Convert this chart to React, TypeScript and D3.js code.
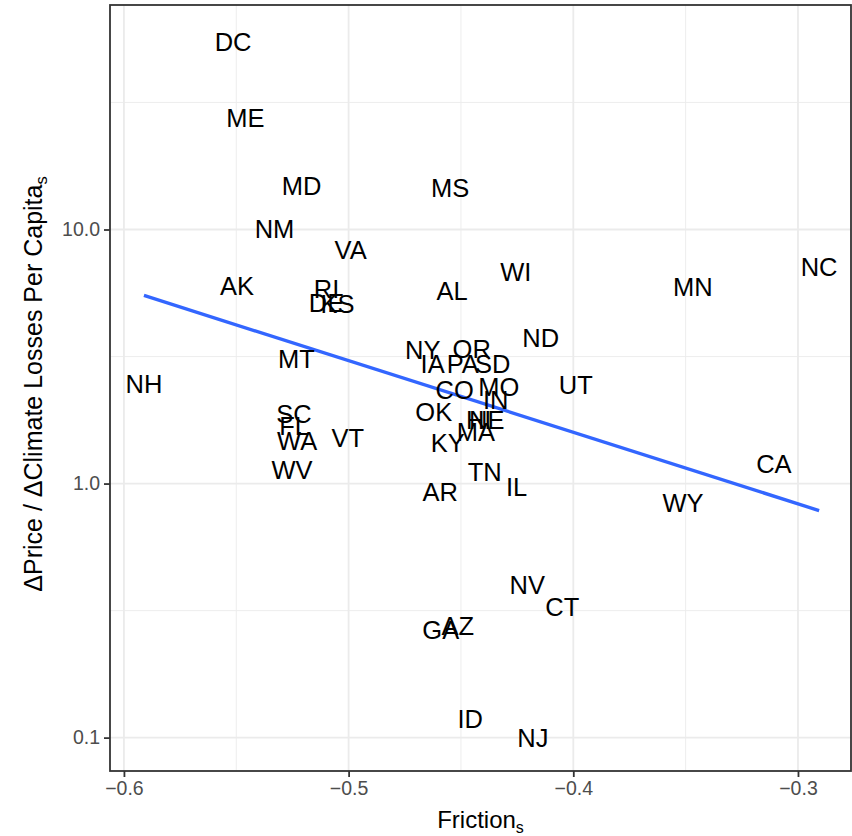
import * as d3 from 'd3';
import React, { useRef, useEffect } from 'react';

// state labels, friction (x) and price/loss ratio (y, log scale)
const states = ['DC', 'ME', 'MD', 'MS', 'NM', 'VA', 'AK', 'RI', 'DE', 'KS', 'AL', 'WI', 'MN', 'NC',
  'ND', 'NY', 'OR', 'IA', 'PA', 'SD', 'MT', 'NH', 'UT', 'MO', 'CO', 'IN', 'OK', 'SC', 'FL', 'HI', 'NE',
  'MA', 'WA', 'VT', 'KY', 'CA', 'WV', 'TN', 'IL', 'AR', 'WY', 'NV', 'CT', 'AZ', 'GA', 'ID', 'NJ'];
const friction = [-0.5514, -0.5459, -0.5209, -0.4548, -0.533, -0.4991, -0.5497, -0.5098, -0.5098, -0.5049,
  -0.4539, -0.4256, -0.3468, -0.2906, -0.4145, -0.467, -0.4452, -0.4626, -0.4492, -0.4359, -0.5232,
  -0.5911, -0.3989, -0.4332, -0.4528, -0.4345, -0.4621, -0.5243, -0.5243, -0.4421, -0.4385,
  -0.4434, -0.5229, -0.5004, -0.4559, -0.3107, -0.5252, -0.4394, -0.4252, -0.4592, -0.3512, -0.4205,
  -0.4049, -0.4514, -0.459, -0.4459, -0.418];
const ratio = [55.0, 27.6, 14.8, 14.6, 10.1, 8.34, 6.02, 5.86, 5.16, 5.11, 5.75, 6.83, 5.94, 7.12,
  3.76, 3.37, 3.40, 2.97, 2.97, 2.97, 3.11, 2.48, 2.45, 2.41, 2.34, 2.14, 1.92, 1.886, 1.69, 1.79, 1.79,
  1.60, 1.476, 1.517, 1.45, 1.199, 1.135, 1.115, 0.973, 0.930, 0.842, 0.400, 0.328, 0.276, 0.266, 0.119, 0.100];

// fitted line (lm on log10 y)
const fitX = [-0.5911, -0.2906];
const fitY = [5.50, 0.783];

const xTicks = [-0.6, -0.5, -0.4, -0.3];
const xMinor = [-0.55, -0.45, -0.35];
const yTicks = [0.1, 1, 10];
const yTickLabels = ['0.1', '1.0', '10.0'];
const yMinor = [0.1 * Math.sqrt(10), Math.sqrt(10), 10 * Math.sqrt(10)];

const W = 852, H = 836;
const FONT = 'Liberation Sans, Arial, sans-serif';

function App() {
  const ref = useRef(null);

  useEffect(() => {
    const svg = d3.select(ref.current);
    svg.selectAll('*').remove();

    const margin = { top: 5, right: 1, bottom: 65, left: 110 };
    const x = d3.scaleLinear().domain([-0.6062, -0.2764]).range([margin.left, W - margin.right]);
    const y = d3.scaleLog().domain([0.0739, 76.5]).range([H - margin.bottom, margin.top]);

    svg.append('rect').attr('width', W).attr('height', H).attr('fill', 'white');

    const grid = svg.append('g');
    grid.selectAll('.xmin').data(xMinor).enter().append('line')
      .attr('x1', d => x(d)).attr('x2', d => x(d))
      .attr('y1', margin.top).attr('y2', H - margin.bottom)
      .attr('stroke', '#ebebeb').attr('stroke-width', 0.9);
    grid.selectAll('.ymin').data(yMinor).enter().append('line')
      .attr('y1', d => y(d)).attr('y2', d => y(d))
      .attr('x1', margin.left).attr('x2', W - margin.right)
      .attr('stroke', '#ebebeb').attr('stroke-width', 0.9);
    grid.selectAll('.xmaj').data(xTicks).enter().append('line')
      .attr('x1', d => x(d)).attr('x2', d => x(d))
      .attr('y1', margin.top).attr('y2', H - margin.bottom)
      .attr('stroke', '#ebebeb').attr('stroke-width', 1.8);
    grid.selectAll('.ymaj').data(yTicks).enter().append('line')
      .attr('y1', d => y(d)).attr('y2', d => y(d))
      .attr('x1', margin.left).attr('x2', W - margin.right)
      .attr('stroke', '#ebebeb').attr('stroke-width', 1.8);

    // regression line
    const line = d3.line().x(d => x(d[0])).y(d => y(d[1]));
    svg.append('path')
      .datum(fitX.map((v, i) => [v, fitY[i]]))
      .attr('d', line)
      .attr('fill', 'none')
      .attr('stroke', '#3366FF')
      .attr('stroke-width', 3.4);

    // state labels
    svg.append('g').selectAll('text')
      .data(states)
      .enter().append('text')
      .attr('x', (d, i) => x(friction[i]))
      .attr('y', (d, i) => y(ratio[i]))
      .attr('dy', '0.36em')
      .attr('text-anchor', 'middle')
      .style('font-family', FONT)
      .style('font-size', '25.5px')
      .style('fill', 'black')
      .text(d => d);

    // panel border
    svg.append('rect')
      .attr('x', margin.left).attr('y', margin.top)
      .attr('width', W - margin.right - margin.left)
      .attr('height', H - margin.bottom - margin.top)
      .attr('fill', 'none').attr('stroke', '#333333').attr('stroke-width', 1.8);

    // x axis
    const xAxis = svg.append('g')
      .attr('transform', 'translate(0,' + (H - margin.bottom) + ')')
      .call(d3.axisBottom(x).tickValues(xTicks).tickFormat(d3.format('.1f')).tickSize(6).tickPadding(4));
    xAxis.select('.domain').remove();
    xAxis.selectAll('line').attr('stroke', '#333333').attr('stroke-width', 1.8);
    xAxis.selectAll('text').style('font-family', FONT).style('font-size', '19.5px').style('fill', '#4d4d4d');

    // y axis
    const yAxis = svg.append('g')
      .attr('transform', 'translate(' + margin.left + ',0)')
      .call(d3.axisLeft(y).tickValues(yTicks).tickFormat((d, i) => yTickLabels[i]).tickSize(6).tickPadding(4));
    yAxis.select('.domain').remove();
    yAxis.selectAll('line').attr('stroke', '#333333').attr('stroke-width', 1.8);
    yAxis.selectAll('text').style('font-family', FONT).style('font-size', '19.5px').style('fill', '#4d4d4d');

    // axis titles
    const xt = svg.append('text')
      .attr('x', (margin.left + W - margin.right) / 2)
      .attr('y', 828)
      .attr('text-anchor', 'middle')
      .style('font-family', FONT).style('font-size', '24px').style('fill', 'black');
    xt.append('tspan').text('Friction');
    xt.append('tspan').attr('dy', 5).style('font-size', '16px').text('s');

    const yt = svg.append('text')
      .attr('transform', 'translate(42,' + ((margin.top + H - margin.bottom) / 2 - 4) + ') rotate(-90)')
      .attr('text-anchor', 'middle')
      .style('font-family', FONT).style('font-size', '25px').style('fill', 'black');
    yt.append('tspan').text('\u0394Price / \u0394Climate Losses Per Capita');
    yt.append('tspan').attr('dy', 5).style('font-size', '16.5px').text('s');
  }, []);

  return (
    <div style={{ position: 'absolute', left: 0, top: 0 }}>
      <svg ref={ref} width={W} height={H} style={{ display: 'block' }}></svg>
    </div>
  );
}

export default App;
